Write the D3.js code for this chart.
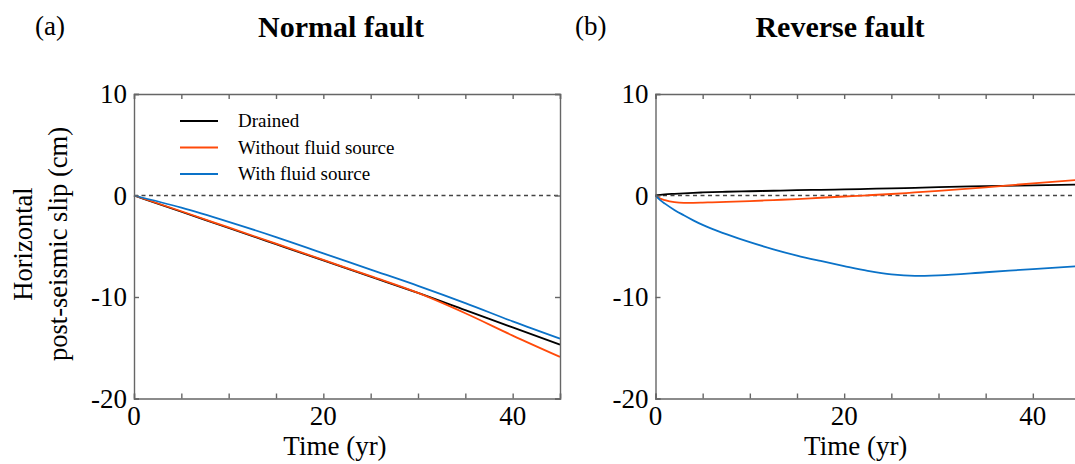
<!DOCTYPE html>
<html>
<head>
<meta charset="utf-8">
<script src="https://cdn.jsdelivr.net/npm/d3@7"></script>
<style>
  html, body { margin: 0; padding: 0; background: #fff; }
  svg { display: block; }
  svg text { font-family: "Liberation Serif", "Times New Roman", serif; fill: #000; }
</style>
</head>
<body>
<svg id="chart" width="1075" height="464"></svg>
<script>
// time samples (yr)
const normalT = [0, 5, 10, 15, 20, 25, 30, 35, 40, 45]
const normalDrained = [0, -1.6, -3.2, -4.8, -6.4, -8.0, -9.6, -11.3, -13.0, -14.7]
const normalNoSource = [0, -1.55, -3.15, -4.75, -6.35, -7.95, -9.6, -11.6, -13.8, -15.9]
const normalWithSource = [0, -1.2, -2.6, -4.1, -5.7, -7.3, -8.9, -10.6, -12.4, -14.1]

const reverseT = [0, 0.5, 1, 2, 3, 4, 5, 6, 7.5, 10, 12.5, 15, 17.5, 20, 22.5, 25, 27.5, 30, 35, 40, 45]
const reverseDrained = [0, 0.07, 0.12, 0.17, 0.21, 0.26, 0.3, 0.33, 0.37, 0.42, 0.47, 0.52, 0.56, 0.6, 0.65, 0.7, 0.76, 0.82, 0.92, 1.0, 1.08]
const reverseNoSource = [0, -0.3, -0.45, -0.65, -0.72, -0.72, -0.7, -0.67, -0.63, -0.55, -0.45, -0.35, -0.22, -0.1, 0.02, 0.15, 0.3, 0.45, 0.8, 1.2, 1.55]
const reverseWithSource = [0, -0.45, -0.8, -1.42, -1.95, -2.45, -2.9, -3.28, -3.8, -4.6, -5.3, -5.92, -6.45, -6.95, -7.42, -7.78, -7.92, -7.86, -7.56, -7.25, -6.95]

const xTicks = [0, 20, 40]
const xMinorTicks = [0, 5, 10, 15, 20, 25, 30, 35, 40, 45]
const yTicks = [10, 0, -10, -20]
const seriesNames = ['Drained', 'Without fluid source', 'With fluid source']
const seriesColors = ['#000000', '#ff4a0a', '#0a72c8']
const serif = '"Liberation Serif", "Times New Roman", serif'

const svg = d3.select('#chart')

function drawPanel(opts){
    const x = d3.scaleLinear().domain([0, 45]).range([opts.left, opts.right])
    const y = d3.scaleLinear().domain([-20, 10]).range([398.5, 94])
    const g = svg.append('g').attr('font-family', serif)
    const axisColor = '#666'

    // zero reference
    g.append('line')
        .attr('x1', x(0)).attr('x2', x(45))
        .attr('y1', y(0)).attr('y2', y(0))
        .attr('stroke', '#444').attr('stroke-width', 1.4)
        .attr('stroke-dasharray', '4,3.5')

    const line = d3.line().x(d => x(d[0])).y(d => y(d[1])).curve(d3.curveMonotoneX)
    opts.series.forEach((vals, i) => {
        g.append('path')
            .datum(opts.t.map((t, j) => [t, vals[j]]))
            .attr('d', line)
            .attr('fill', 'none')
            .attr('stroke', seriesColors[i])
            .attr('stroke-width', 1.8)
    })

    // frame with inward ticks
    const bottom = d3.axisBottom(x).tickValues(xMinorTicks).tickSize(-5).tickFormat('')
    const top = d3.axisTop(x).tickValues(xMinorTicks).tickSize(-5).tickFormat('')
    const left = d3.axisLeft(y).tickValues(yTicks).tickSize(-5).tickFormat('')
    const right = d3.axisRight(y).tickValues(yTicks).tickSize(-5).tickFormat('')
    g.append('g').attr('transform', `translate(0,${y(-20)})`).call(bottom)
    g.append('g').attr('transform', `translate(0,${y(10)})`).call(top)
    g.append('g').attr('transform', `translate(${x(0)},0)`).call(left)
    g.append('g').attr('transform', `translate(${x(45)},0)`).call(right)
    g.selectAll('.domain, .tick line').attr('stroke', axisColor).attr('stroke-width', 1.4)

    // tick labels
    g.selectAll('.xlab').data(xTicks).enter().append('text')
        .attr('class', 'xlab')
        .attr('x', d => x(d)).attr('y', 425)
        .attr('text-anchor', 'middle')
        .attr('font-family', serif).attr('font-size', 27)
        .text(d => d)
    g.selectAll('.ylab').data(yTicks).enter().append('text')
        .attr('class', 'ylab')
        .attr('x', x(0) - 7).attr('y', d => y(d) + 9)
        .attr('text-anchor', 'end')
        .attr('font-family', serif).attr('font-size', 27)
        .text(d => d)

    g.append('text')
        .attr('x', (x(0) + x(45)) / 2 - 12).attr('y', 455)
        .attr('text-anchor', 'middle').attr('font-size', 27)
        .text('Time (yr)')

    g.append('text')
        .attr('x', opts.titleX).attr('y', 37)
        .attr('text-anchor', 'middle').attr('font-size', 30).attr('font-weight', 'bold')
        .text(opts.title)
    g.append('text')
        .attr('x', opts.tagX).attr('y', 35)
        .attr('font-size', 27)
        .text(opts.tag)

    return g
}

const ga = drawPanel({
    left: 134, right: 560, t: normalT,
    series: [normalDrained, normalNoSource, normalWithSource],
    title: 'Normal fault', titleX: 341, tag: '(a)', tagX: 35
})
drawPanel({
    left: 655.5, right: 1080, t: reverseT,
    series: [reverseDrained, reverseNoSource, reverseWithSource],
    title: 'Reverse fault', titleX: 840, tag: '(b)', tagX: 575
})

// legend (panel a)
const leg = ga.selectAll('.leg').data(seriesNames).enter().append('g')
    .attr('class', 'leg')
    .attr('transform', (d, i) => `translate(180,${121 + i * 26.5})`)
leg.append('line')
    .attr('x1', 0).attr('x2', 38)
    .attr('stroke', (d, i) => seriesColors[i]).attr('stroke-width', 1.8)
leg.append('text')
    .attr('x', 58).attr('y', 6)
    .attr('font-family', serif).attr('font-size', 19)
    .text(d => d)

// y axis title
const yt = svg.append('text')
    .attr('transform', 'translate(0,244) rotate(-90)')
    .attr('text-anchor', 'middle').attr('font-size', 26.5)
    .attr('font-family', serif)
yt.append('tspan').attr('x', 0).attr('y', 32).text('Horizontal')
yt.append('tspan').attr('x', 0).attr('y', 67).text('post-seismic slip (cm)')
</script>
</body>
</html>
